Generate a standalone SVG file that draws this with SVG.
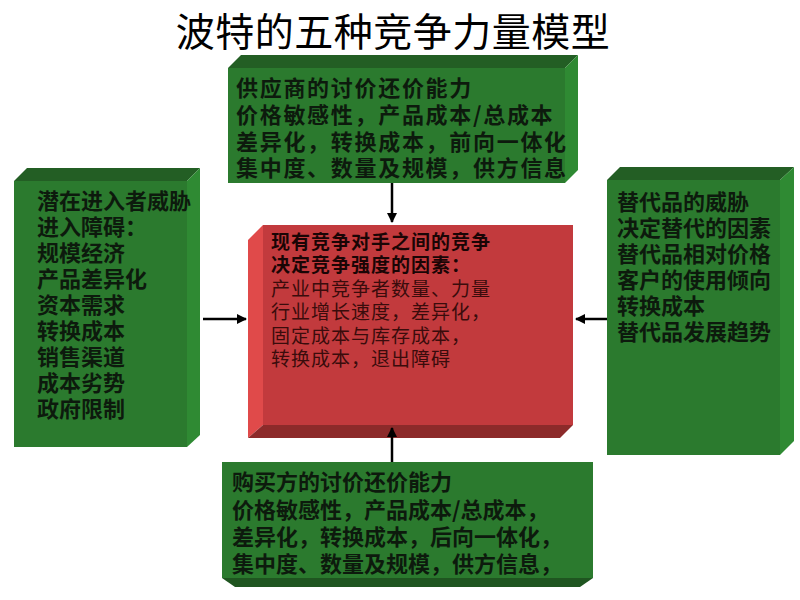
<svg xmlns="http://www.w3.org/2000/svg" width="800" height="600" viewBox="0 0 800 600">
<defs>
<style>
.gf{fill:#2b7a2e}.gt{fill:#235e24}.gs{fill:#2f8a33}.gd{fill:#1f5520}
.t{font-family:"Noto Sans CJK SC","Liberation Sans",sans-serif;font-size:22px;font-weight:bold;fill:#0d1a0d}
.w{letter-spacing:1.7px}
.r{font-family:"Noto Sans CJK SC","Liberation Sans",sans-serif;font-size:19px;letter-spacing:1px;fill:#3a0c0c}
.rb{font-weight:bold;fill:#1a0505}
.c{stroke:#000;stroke-width:2.5;fill:none;marker-end:url(#a)}
</style>
<marker id="a" viewBox="0 0 10 10" refX="9" refY="5" markerWidth="4" markerHeight="4" orient="auto"><path d="M0,0L10,5L0,10z" fill="#000"/></marker>
</defs>
<rect width="800" height="600" fill="#fff"/>
<text x="393" y="46" text-anchor="middle" font-family="Noto Sans CJK SC,sans-serif" font-size="39" letter-spacing="0.5" fill="#000">波特的五种竞争力量模型</text>
<g id="supplier">
<polygon class="gt" points="228,68 241,55 578,55 565,68"/>
<polygon class="gs" points="565,68 578,55 578,170 565,183"/>
<rect class="gf" x="228" y="68" width="337" height="115"/>
<text class="t w" x="236" y="96">供应商的讨价还价能力</text>
<text class="t w" x="236" y="123">价格敏感性，产品成本/总成本</text>
<text class="t w" x="236" y="150">差异化，转换成本，前向一体化</text>
<text class="t w" x="236" y="176">集中度、数量及规模，供方信息</text>
</g>
<g id="entrants">
<polygon class="gt" points="14,181 27,168 200,168 187,181"/>
<polygon class="gs" points="187,181 200,168 200,435 187,447"/>
<rect class="gf" x="14" y="181" width="173" height="266"/>
<text class="t" x="37" y="209">潜在进入者威胁</text>
<text class="t" x="37" y="235">进入障碍：</text>
<text class="t" x="37" y="261">规模经济</text>
<text class="t" x="37" y="287">产品差异化</text>
<text class="t" x="37" y="313">资本需求</text>
<text class="t" x="37" y="339">转换成本</text>
<text class="t" x="37" y="365">销售渠道</text>
<text class="t" x="37" y="391">成本劣势</text>
<text class="t" x="37" y="417">政府限制</text>
</g>
<g id="substitutes">
<polygon class="gt" points="607,180 620,167 794,167 780,180"/>
<polygon class="gs" points="780,180 794,167 794,441 780,455"/>
<rect class="gf" x="607" y="180" width="173" height="275"/>
<text class="t" x="617" y="210">替代品的威胁</text>
<text class="t" x="617" y="236">决定替代的因素</text>
<text class="t" x="617" y="262">替代品相对价格</text>
<text class="t" x="617" y="288">客户的使用倾向</text>
<text class="t" x="617" y="314">转换成本</text>
<text class="t" x="617" y="340">替代品发展趋势</text>
</g>
<g id="buyer">
<polygon class="gd" points="222,578 593,578 580,587 235,587"/>
<rect class="gf" x="222" y="462" width="371" height="116"/>
<text class="t" x="232" y="490">购买方的讨价还价能力</text>
<text class="t" x="232" y="518">价格敏感性，产品成本/总成本，</text>
<text class="t" x="232" y="545">差异化，转换成本，后向一体化，</text>
<text class="t" x="232" y="572">集中度、数量及规模，供方信息，</text>
</g>
<g id="rivalry">
<polygon fill="#e04a4a" points="248,240 263,225 263,425 248,438"/>
<polygon fill="#8c2a2a" points="248,438 263,425 573,425 560,438"/>
<rect fill="#c23a3d" x="263" y="225" width="310" height="200"/>
<text class="r rb" x="271" y="249">现有竞争对手之间的竞争</text>
<text class="r rb" x="271" y="272">决定竞争强度的因素：</text>
<text class="r" x="271" y="296">产业中竞争者数量、力量</text>
<text class="r" x="271" y="319">行业增长速度，差异化，</text>
<text class="r" x="271" y="343">固定成本与库存成本，</text>
<text class="r" x="271" y="366">转换成本，退出障碍</text>
</g>
<g id="connectors">
<line class="c" x1="392" y1="183" x2="392" y2="222"/>
<line class="c" x1="392" y1="462" x2="392" y2="428"/>
<line class="c" x1="203" y1="319" x2="246" y2="319"/>
<line class="c" x1="607" y1="319" x2="576" y2="319"/>
</g>
</svg>
